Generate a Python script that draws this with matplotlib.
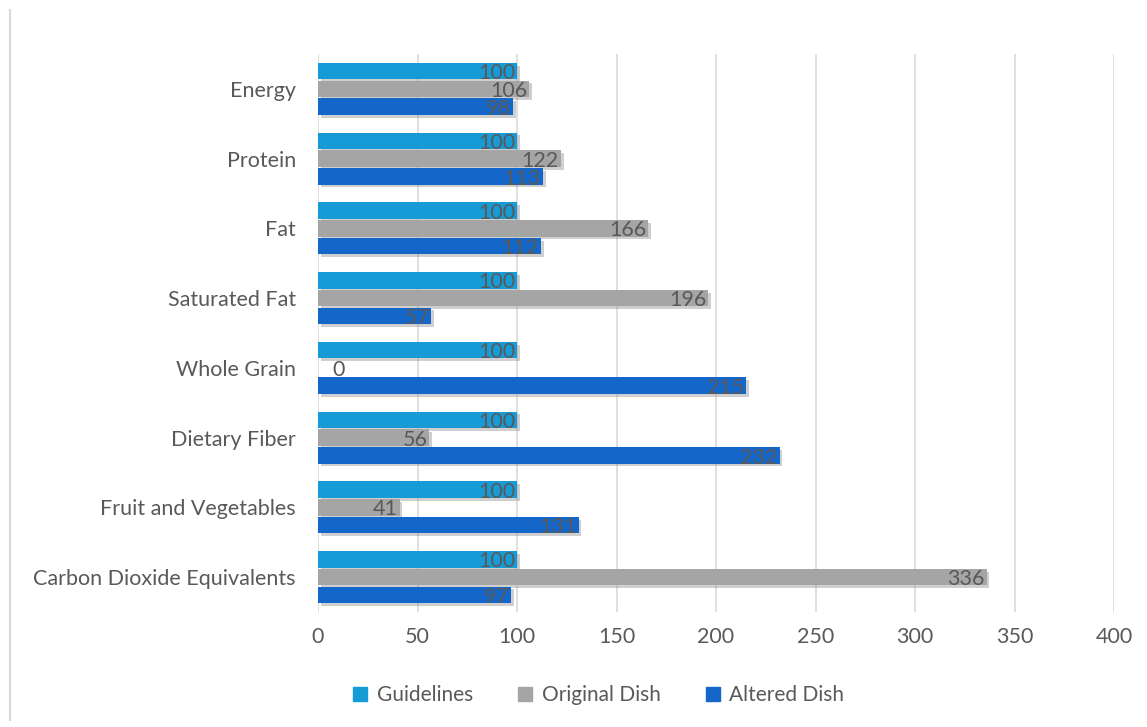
import numpy as np
import matplotlib.pyplot as plt
import matplotlib.patheffects as pe
from matplotlib.lines import Line2D

plt.rcParams['font.family'] = ['Lato', 'DejaVu Sans']

categories = ['Energy', 'Protein', 'Fat', 'Saturated Fat', 'Whole Grain',
              'Dietary Fiber', 'Fruit and Vegetables', 'Carbon Dioxide Equivalents']
guidelines = [100, 100, 100, 100, 100, 100, 100, 100]
original = [106, 122, 166, 196, 0, 56, 41, 336]
altered = [98, 113, 112, 57, 215, 232, 131, 97]

series = [('Guidelines', guidelines, '#179bd7'),
          ('Original Dish', original, '#a5a5a5'),
          ('Altered Dish', altered, '#1466c8')]

fig = plt.figure(figsize=(11.47, 7.27), dpi=100)
ax = fig.add_axes([318 / 1147, 1 - 612 / 727, (1114 - 318) / 1147, (612 - 54) / 727])

y = np.arange(len(categories))
h = 0.235
offsets = [-0.255, 0, 0.255]
shadow = [pe.SimplePatchShadow(offset=(2, -2), shadow_rgbFace='#888888', alpha=0.4), pe.Normal()]

for (name, vals, col), off in zip(series, offsets):
    bars = ax.barh(y + off, vals, height=h, color=col, label=name, zorder=3)
    for b in bars:
        b.set_path_effects(shadow)
    for yi, v in zip(y, vals):
        if v == 0:
            ax.text(v + 7, yi + off + 0.03, f'{v}', ha='left', va='center',
                    fontsize=15.5, color='#595959', zorder=4)
        else:
            ax.text(v - 1, yi + off + 0.03, f'{v}', ha='right', va='center',
                    fontsize=15.5, color='#595959', zorder=4)

ax.set_xlim(0, 400)
ax.set_ylim(len(categories) - 0.5, -0.5)
ax.set_xticks(np.arange(0, 401, 50))
ax.set_yticks(y)
ax.set_yticklabels(categories)
ax.tick_params(axis='both', length=0, labelsize=15.5, labelcolor='#595959')
ax.tick_params(axis='y', pad=16)
ax.tick_params(axis='x', pad=11)
ax.grid(axis='x', color='#d9d9d9', linewidth=1.2, zorder=0)
for s in ax.spines.values():
    s.set_visible(False)

handles = [Line2D([], [], marker='s', linestyle='none', markersize=9.5,
                  markerfacecolor=c, markeredgecolor=c) for _, _, c in series]
fig.legend(handles, [n for n, _, _ in series], loc='center', bbox_to_anchor=(0.516, 1 - 695 / 727),
           ncol=3, frameon=False, fontsize=15, handletextpad=-0.2, columnspacing=1.5,
           labelcolor='#595959')

# thin frame edge on the left
fig.add_artist(Line2D([10 / 1147, 10 / 1147], [1 - 720 / 727, 1 - 10 / 727],
                      color='#d9d9d9', linewidth=1.5, transform=fig.transFigure))

fig.savefig('out.png', dpi=100, facecolor='white')
